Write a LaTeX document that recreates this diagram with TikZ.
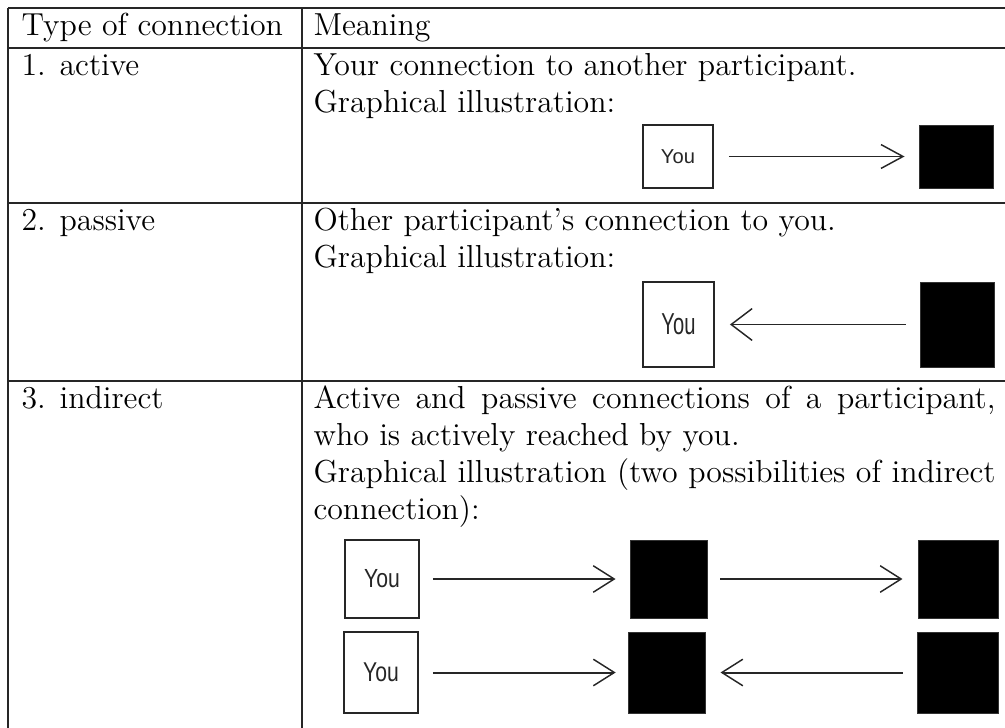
\documentclass[tikz,border=0pt]{standalone}
\usepackage{fontspec}
\usepackage{graphicx}
\usetikzlibrary{arrows.meta}
\newfontfamily\youfont{Liberation Sans}
\newcommand{\cellfont}{\fontsize{12}{14.5}\selectfont}
\newcommand{\jline}[1]{\makebox[257.1pt][s]{#1}}
\begin{document}
\begin{tikzpicture}[x=0.377pt,y=-0.377pt,
  rule/.style={line width=0.55pt, draw=black!85},
  txt/.style={anchor=base west, inner sep=0pt, font=\cellfont},
  you/.style={draw=black!85, line width=0.65pt, inner sep=0pt,
    font=\youfont\fontsize{7.6}{9}\selectfont, text=black!85},
  peer/.style={fill=black, draw=black!80, line width=0.3pt, inner sep=0pt},
  conn/.style={draw=black!85, line width=0.75pt,
    -{Straight Barb[length=8.3pt,width=9pt,line width=0.55pt]}},
  conntall/.style={draw=black!85, line width=0.75pt,
    -{Straight Barb[length=7.9pt,width=12pt,line width=0.55pt]}},
  connmid/.style={draw=black!85, line width=0.75pt,
    -{Straight Barb[length=7.9pt,width=10pt,line width=0.55pt]}}]
\useasboundingbox (0,0) rectangle (1005,728);

% table rules
\draw[rule] (8,8) -- (1005,8);
\draw[rule] (8,48) -- (1005,48);
\draw[rule] (8,203) -- (1005,203);
\draw[rule] (8,381) -- (1005,381);
\draw[rule] (8,8) -- (8,728);
\draw[rule] (302,8) -- (302,728);

% header
\node[txt] (h1) at (21,36) {Type of connection};
\node[txt] (h2) at (313,36) {Meaning};

% row 1: active
\node[txt] (t1) at (21,75) {1. active};
\node[txt] (m1a) at (313,75) {Your connection to another participant.};
\node[txt] (m1b) at (313,112) {Graphical illustration:};
\node[you, minimum width=26.39pt, minimum height=23.75pt] (you1) at (678,156.5) {You};
\node[peer, minimum width=27.90pt, minimum height=23.75pt] (p1) at (956,156.5) {};
\draw[conn, shorten <=5.7pt, shorten >=5.3pt] (you1) -- (p1);

% row 2: passive
\node[txt] (t2) at (21,230) {2. passive};
\node[txt] (m2a) at (313,230) {Other participant's connection to you.};
\node[txt] (m2b) at (313,267) {Graphical illustration:};
\node[you, minimum width=26.77pt, minimum height=32.05pt] (you2) at (678.5,324.5) {\scalebox{1}[1.5]{You}};
\node[peer, minimum width=27.90pt, minimum height=32.05pt] (p2) at (957,324.5) {};
\draw[conntall, shorten <=5.3pt, shorten >=5.7pt] (p2) -- (you2);

% row 3: indirect
\node[txt] (t3) at (21,408) {3. indirect};
\node[txt] (m3a) at (313,408) {\jline{Active and passive connections of a participant,}};
\node[txt] (m3b) at (313,445) {who is actively reached by you.};
\node[txt] (m3c) at (313,482) {\jline{Graphical illustration (two possibilities of indirect}};
\node[txt] (m3d) at (313,519) {connection):};

% first possibility
\node[you, minimum width=27.90pt, minimum height=29.41pt] (you3) at (382,579) {\scalebox{1.05}[1.3]{You}};
\node[peer, minimum width=29.03pt, minimum height=29.41pt] (p3) at (668.5,579) {};
\node[peer, minimum width=30.16pt, minimum height=29.41pt] (p4) at (958,579) {};
\draw[connmid, shorten <=4.9pt, shorten >=5.3pt] (you3) -- (p3);
\draw[connmid, shorten <=4.9pt, shorten >=5.7pt] (p3) -- (p4);

% second possibility
\node[you, minimum width=27.90pt, minimum height=30.54pt] (you4) at (381,672.5) {\scalebox{1.05}[1.35]{You}};
\node[peer, minimum width=29.03pt, minimum height=30.54pt] (p5) at (666.5,672.5) {};
\node[peer, minimum width=30.54pt, minimum height=30.54pt] (p6) at (957.5,672.5) {};
\draw[connmid, shorten <=5.3pt, shorten >=4.5pt] (you4) -- (p5);
\draw[connmid, shorten <=5.3pt, shorten >=5.7pt] (p6) -- (p5);
\end{tikzpicture}
\end{document}
